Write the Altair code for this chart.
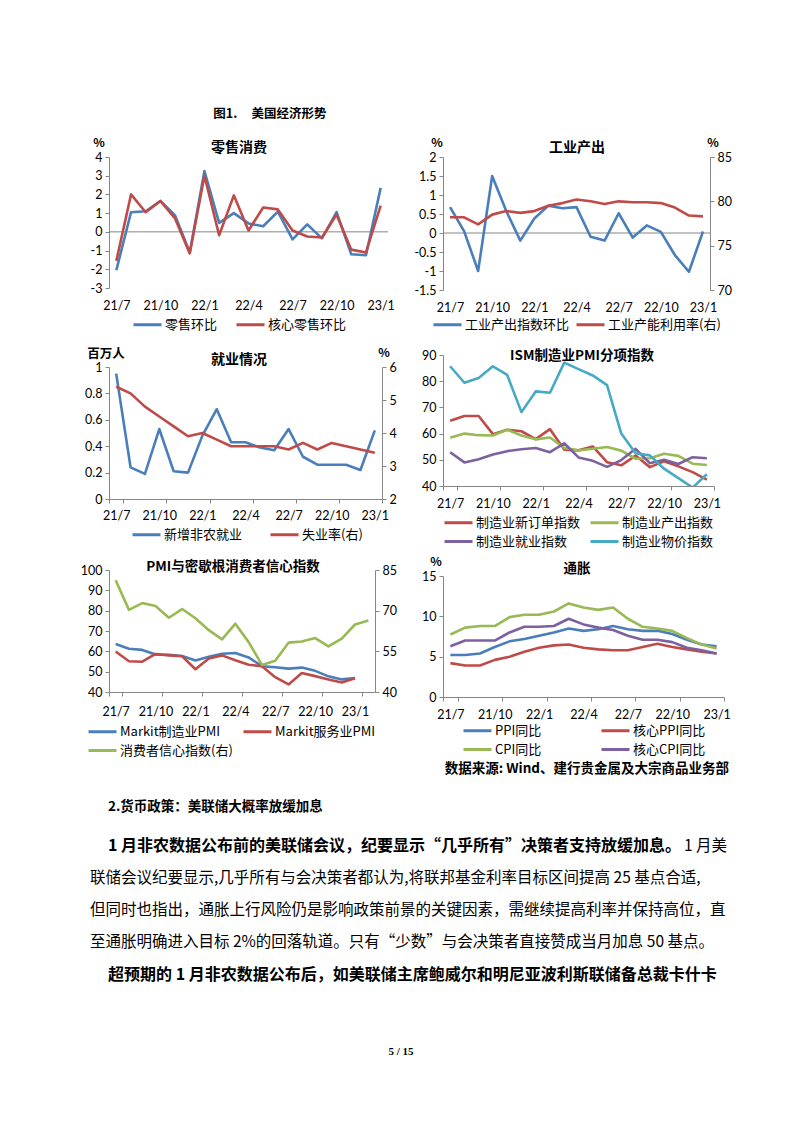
import altair as alt
import pandas as pd

# ---------------- data ----------------
months = ['21/7', '21/8', '21/9', '21/10', '21/11', '21/12', '22/1', '22/2', '22/3', '22/4',
          '22/5', '22/6', '22/7', '22/8', '22/9', '22/10', '22/11', '22/12', '23/1']
months_ext = months + ['23/2']
tick_months = ['21/7', '21/10', '22/1', '22/4', '22/7', '22/10', '23/1']

retail_mom = [-2.05, 1.05, 1.1, 1.65, 0.88, -1.1, 3.25, 0.48, 1.0, 0.45, 0.3, 1.08, -0.4, 0.4, -0.35, 1.05, -1.2, -1.25, 2.35]
core_retail_mom = [-1.55, 2.0, 1.05, 1.65, 0.72, -1.15, 3.0, -0.18, 1.95, 0.07, 1.3, 1.2, 0.07, -0.25, -0.3, 0.92, -0.95, -1.1, 1.4]

ip_mom = [0.68, 0.05, -1.0, 1.5, 0.58, -0.2, 0.38, 0.72, 0.65, 0.68, -0.1, -0.2, 0.52, -0.12, 0.2, 0.03, -0.58, -1.02, 0.04]
cap_util = [78.2, 78.2, 77.4, 78.5, 78.9, 78.7, 78.9, 79.5, 79.8, 80.2, 80.0, 79.7, 80.0, 79.9, 79.9, 79.8, 79.3, 78.4, 78.3]

nfp = [0.95, 0.24, 0.19, 0.53, 0.21, 0.2, 0.48, 0.68, 0.43, 0.43, 0.39, 0.37, 0.53, 0.32, 0.26, 0.26, 0.26, 0.22, 0.52]
unemployment = [5.4, 5.2, 4.8, 4.5, 4.2, 3.9, 4.0, 3.8, 3.6, 3.6, 3.6, 3.6, 3.5, 3.7, 3.5, 3.7, 3.6, 3.5, 3.4]

ism_new_orders = [64.9, 66.7, 66.7, 59.8, 61.5, 60.9, 57.9, 61.7, 53.9, 53.6, 55.1, 49.1, 47.9, 51.6, 47.2, 49.4, 47.5, 45.3, 42.4]
ism_production = [58.4, 60.0, 59.4, 59.3, 61.5, 59.3, 57.8, 58.5, 54.5, 53.6, 54.2, 54.9, 53.5, 50.4, 50.6, 52.3, 51.5, 48.5, 48.0]
ism_employment = [52.9, 49.0, 50.2, 52.0, 53.3, 54.0, 54.5, 52.9, 56.3, 50.9, 49.6, 47.3, 49.9, 54.2, 48.7, 50.0, 48.4, 51.0, 50.6]
ism_prices = [85.7, 79.4, 81.2, 85.7, 82.4, 68.2, 76.1, 75.6, 87.1, 84.6, 82.2, 78.5, 60.0, 52.5, 51.7, 46.6, 43.0, 39.4, 44.5]

markit_mfg = [63.6, 61.3, 60.7, 58.4, 58.3, 57.7, 55.5, 57.3, 58.8, 59.2, 57.0, 52.7, 52.2, 51.5, 52.0, 50.4, 47.7, 46.2, 46.9]
markit_svc = [59.9, 55.1, 54.9, 58.7, 58.0, 57.6, 51.2, 56.5, 58.0, 55.6, 53.4, 52.7, 47.3, 43.7, 49.3, 47.8, 46.2, 44.7, 46.8]
umich_sentiment = [81.2, 70.3, 72.8, 71.7, 67.4, 70.6, 67.2, 62.8, 59.4, 65.2, 58.4, 50.0, 51.5, 58.2, 58.6, 59.9, 56.8, 59.7, 64.9, 66.4]

ppi_yoy = [5.2, 5.2, 5.4, 6.2, 6.9, 7.2, 7.6, 8.0, 8.5, 8.2, 8.4, 8.8, 8.4, 8.2, 8.2, 7.8, 7.1, 6.5, 6.3]
core_ppi_yoy = [4.2, 3.9, 3.9, 4.6, 5.0, 5.6, 6.1, 6.4, 6.5, 6.1, 5.9, 5.8, 5.8, 6.2, 6.6, 6.2, 5.9, 5.6, 5.4]
cpi_yoy = [7.75, 8.6, 8.8, 8.8, 9.9, 10.2, 10.2, 10.6, 11.6, 11.1, 10.8, 11.1, 9.7, 8.7, 8.5, 8.2, 7.3, 6.5, 6.0]
core_cpi_yoy = [6.3, 7.0, 7.0, 7.0, 8.0, 8.7, 8.7, 8.8, 9.7, 9.0, 8.6, 8.3, 7.6, 7.1, 7.1, 6.8, 6.1, 5.8, 5.4]

# ---------------- style ----------------
CJK = 'Noto Sans CJK SC'
NUM = 'Lato'
GRAY = '#868686'
BLUE, RED, GREEN, PURPLE, CYAN = '#4A7EBB', '#BE4B48', '#98B954', '#7D60A0', '#46AAC5'
LINE_W = 2.6

one = pd.DataFrame({'k': [0]})


def frame(cats, series):
    rows = []
    for name, vals in series:
        for m, v in zip(cats, vals):
            rows.append({'month': m, 'value': v, 'series': name})
    return pd.DataFrame(rows)


def x_enc(cats, axis_line, pad):
    return alt.X('month:N', sort=cats, bandPosition=0.5,
                 scale=alt.Scale(type='band', domain=cats, paddingInner=0, paddingOuter=0),
                 axis=alt.Axis(values=tick_months, title=None, labelAngle=0, labelFont=NUM,
                               labelFontSize=12.5, labelColor='black', labelPadding=pad,
                               domain=axis_line, domainColor=GRAY, ticks=axis_line, tickColor=GRAY,
                               tickSize=4 if axis_line else 0, tickBand='extent',
                               labelOverlap=False, labelFlush=False))


def y_enc(domain, values, orient):
    return alt.Y('value:Q', scale=alt.Scale(domain=domain, nice=False, zero=False),
                 axis=alt.Axis(orient=orient, values=values, title=None, grid=False, labelFont=NUM,
                               labelFontSize=12.5, labelColor='black', labelPadding=3,
                               domainColor=GRAY, tickColor=GRAY, tickSize=4, labelOverlap=False,
                               labelFlush=False, labelExpr="'' + datum.value"))


def legend(x, y, col_pad, row_pad=2):
    return alt.Legend(orient='none', legendX=x, legendY=y, direction='horizontal', columns=2,
                      title=None, symbolType='M-1,0H3', symbolSize=196, symbolStrokeWidth=3,
                      labelFont=CJK, labelFontSize=13, labelColor='black', labelOffset=16,
                      columnPadding=col_pad, rowPadding=row_pad, padding=0, labelLimit=400)


def lines(df, cats, ydom, yvals, orient, cdom, ccols, leg, xpad, axis_line, clip=False):
    return alt.Chart(df).mark_line(strokeWidth=LINE_W, clip=clip, strokeJoin='round').encode(
        x=x_enc(cats, axis_line, xpad),
        y=y_enc(ydom, yvals, orient),
        color=alt.Color('series:N', sort=cdom, scale=alt.Scale(domain=cdom, range=ccols), legend=leg))


def zero_rule(ydom, yvals):
    return alt.Chart(pd.DataFrame({'value': [0]})).mark_rule(color=GRAY, strokeWidth=1).encode(
        y=y_enc(ydom, yvals, 'left'))


def txt(s, x, y, size, weight='bold', align='center', font=CJK):
    return alt.Chart(one).mark_text(text=s, font=font, fontSize=size, fontWeight=weight, align=align,
                                    baseline='middle', color='black').encode(x=alt.value(x), y=alt.value(y))


def spacer(h):
    return alt.Chart(one).mark_point(opacity=0).encode(x=alt.value(0), y=alt.value(0)).properties(width=10, height=h)


IND = dict(x='independent', y='independent', color='independent')

# ---- panel 1: retail ----
d1 = ['零售环比', '核心零售环比']
leg1 = legend(23, 159, 12)
c1 = alt.layer(
    zero_rule([-3, 4], [-3, -2, -1, 0, 1, 2, 3, 4]),
    lines(frame(months, [(d1[0], retail_mom), (d1[1], core_retail_mom)]), months, [-3, 4],
          [-3, -2, -1, 0, 1, 2, 3, 4], 'left', d1, [BLUE, RED], leg1, 11, False),
    txt('零售消费', 130, -9, 14),
    txt('%', -10, -14, 12),
).properties(width=279, height=131)

# ---- panel 2: industrial production ----
d2 = ['工业产出指数环比', '工业产能利用率(右)']
yv2 = [-1.5, -1, -0.5, 0, 0.5, 1, 1.5, 2]
leg2 = legend(-11, 159, 0)
c2 = alt.layer(
    alt.layer(
        zero_rule([-1.5, 2], yv2),
        lines(frame(months, [(d2[0], ip_mom)]), months, [-1.5, 2], yv2, 'left', d2, [BLUE, RED],
              leg2, 11, False),
    ),
    lines(frame(months, [(d2[1], cap_util)]), months, [70, 85], [70, 75, 80, 85], 'right', d2,
          [BLUE, RED], leg2, 11, False),
    txt('工业产出', 134, -9, 14),
    txt('%', -6, -14, 12),
    txt('%', 270, -14, 12),
).resolve_scale(y='independent').properties(width=267, height=133)

# ---- panel 3: employment ----
d3 = ['新增非农就业', '失业率(右)']
leg3 = legend(22, 159, 21)
c3 = alt.layer(
    lines(frame(months, [(d3[0], nfp)]), months, [0, 1], [0, 0.2, 0.4, 0.6, 0.8, 1], 'left', d3,
          [BLUE, RED], leg3, 6, True),
    lines(frame(months, [(d3[1], unemployment)]), months, [2, 6], [2, 3, 4, 5, 6], 'right', d3,
          [BLUE, RED], leg3, 6, True),
    txt('百万人', -3, -13.5, 12.5),
    txt('就业情况', 130, -7, 14),
    txt('%', 275, -14, 12),
).resolve_scale(y='independent').properties(width=273, height=132)

# ---- panel 4: ISM ----
d4 = ['制造业新订单指数', '制造业产出指数', '制造业就业指数', '制造业物价指数']
c4 = alt.layer(
    lines(frame(months, [(d4[0], ism_new_orders), (d4[1], ism_production),
                         (d4[2], ism_employment), (d4[3], ism_prices)]),
          months, [40, 90], [40, 50, 60, 70, 80, 90], 'left', d4, [RED, GREEN, PURPLE, CYAN],
          legend(0, 159, 3, 3), 7.5, True, clip=True),
    txt('ISM制造业PMI分项指数', 139, 1, 13.5),
).properties(width=271, height=131)

# ---- panel 5: PMI & sentiment ----
d5 = ['Markit制造业PMI', 'Markit服务业PMI', '消费者信心指数(右)']
leg5 = legend(-22, 153, 4, 3)
c5 = alt.layer(
    lines(frame(months, [(d5[0], markit_mfg), (d5[1], markit_svc)]), months_ext, [40, 100],
          [40, 50, 60, 70, 80, 90, 100], 'left', d5, [BLUE, RED, GREEN], leg5, 9.5, True),
    lines(frame(months_ext, [(d5[2], umich_sentiment)]), months_ext, [40, 85], [40, 55, 70, 85], 'right',
          d5, [BLUE, RED, GREEN], leg5, 9.5, True),
    txt('PMI与密歇根消费者信心指数', 124, -3, 13.5),
).resolve_scale(y='independent').properties(width=266, height=122)

# ---- panel 6: inflation ----
d6 = ['PPI同比', '核心PPI同比', 'CPI同比', '核心CPI同比']
c6 = alt.layer(
    lines(frame(months, [(d6[0], ppi_yoy), (d6[1], core_ppi_yoy), (d6[2], cpi_yoy), (d6[3], core_cpi_yoy)]),
          months, [0, 15], [0, 5, 10, 15], 'left', d6, [BLUE, RED, GREEN, PURPLE],
          legend(19, 146, 53, 3), 7, True),
    txt('通胀', 134, -7, 13.5),
    txt('%', -7, -14, 12),
    txt('数据来源: Wind、建行贵金属及大宗商品业务部', 286, 193, 13.5, align='right'),
).properties(width=281, height=121)

left_col = alt.vconcat(c1, spacer(79), c3, spacer(71), c5, spacing=0, bounds='flush').resolve_scale(**IND)
right_col = alt.vconcat(c2, spacer(65), c4, spacer(90), c6, spacing=0, bounds='flush').resolve_scale(**IND)
grid = alt.hconcat(left_col, right_col, spacing=16).resolve_scale(**IND)

# ---- text below ----
PS = 15.5
PB = 16
text_chart = alt.layer(
    txt('2.货币政策：美联储大概率放缓加息', -1, 24, 13.5, align='left'),
    txt('1 月非农数据公布前的美联储会议，纪要显示“几乎所有”决策者支持放缓加息。', -1, 63, PB, align='left'),
    txt('1 月美', 618, 63, PS, weight='normal', align='right'),
    txt('联储会议纪要显示,几乎所有与会决策者都认为,将联邦基金利率目标区间提高 25 基点合适,', -19, 95, PS,
        weight='normal', align='left'),
    txt('但同时也指出，通胀上行风险仍是影响政策前景的关键因素，需继续提高利率并保持高位，直', -19, 127, PS,
        weight='normal', align='left'),
    txt('至通胀明确进入目标 2%的回落轨道。只有“少数”与会决策者直接赞成当月加息 50 基点。', -19, 159, PS,
        weight='normal', align='left'),
    txt('超预期的 1 月非农数据公布后，如美联储主席鲍威尔和明尼亚波利斯联储备总裁卡什卡', -1, 192, PB,
        align='left'),
    txt('5 / 15', 292, 269, 11, font='Liberation Serif'),
).properties(width=620, height=277)

chart = alt.vconcat(grid, text_chart, spacing=7).resolve_scale(**IND).properties(
    title=alt.TitleParams(text='图1.\u00a0\u00a0\u00a0\u00a0\u00a0美国经济形势', anchor='start', dx=133,
                          offset=17, font=CJK, fontSize=12.5, fontWeight='bold', color='black'),
    padding={'left': 72, 'top': 99, 'right': 5, 'bottom': 5},
    background='white',
).configure_view(stroke=None)

chart.save('out.html', embed_options={'renderer': 'svg', 'actions': False})
